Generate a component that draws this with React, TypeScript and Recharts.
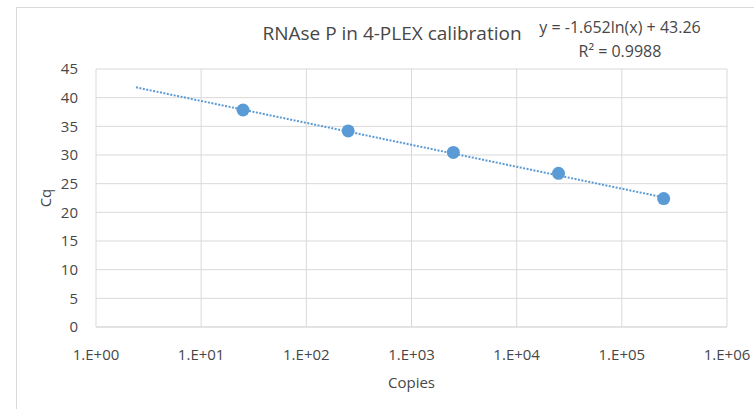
// RNAse P calibration curve: Cq vs copies on a log x axis, with a
// logarithmic trendline drawn as a dotted line (Excel-style look).

import {
  CartesianGrid,
  Scatter,
  ScatterChart,
  XAxis,
  YAxis,
} from "recharts";

const copies = [25, 250, 2500, 25000, 250000];
const cqValues = [37.85, 34.2, 30.45, 26.8, 22.4];

// trendline ends
const trendCopies = [2.4, 250000];
const trendCq = [41.8, 22.6];

const xTicks = [1, 10, 100, 1000, 10000, 100000, 1000000];
const yTicks = [0, 5, 10, 15, 20, 25, 30, 35, 40, 45];

const title = "RNAse P in 4-PLEX calibration";
const equation = "y = -1.652ln(x) + 43.26";
const rSquared = "0.9988";

const BLUE = "#5b9bd5";
const GRID = "#d9d9d9";
const TEXT = "#474747";
const FONT = "'Open Sans', sans-serif";

const points = copies.map((x, i) => ({ x, y: cqValues[i] }));
const trend = trendCopies.map((x, i) => ({ x, y: trendCq[i] }));

const fmtExp = (v: number) => {
  const e = Math.round(Math.log10(v));
  return `1.E+${String(e).padStart(2, "0")}`;
};

const Dot = (props: any) => {
  const { cx, cy } = props;
  if (cx == null || cy == null) return <g />;
  return <circle cx={cx} cy={cy} r={6.5} fill={BLUE} />;
};

export default function App() {
  return (
    <div
      style={{
        position: "absolute",
        left: 0,
        top: 0,
        width: 754,
        height: 409,
        background: "#fff",
        fontFamily: FONT,
        overflow: "hidden",
      }}
    >
      {/* chart area frame, cut off on the right and bottom */}
      <div
        style={{
          position: "absolute",
          left: 16,
          top: 7,
          right: -2,
          bottom: -2,
          borderLeft: `1px solid ${GRID}`,
          borderTop: `1px solid ${GRID}`,
        }}
      />
      <div
        style={{
          position: "absolute",
          left: 192,
          width: 400,
          top: 19,
          textAlign: "center",
          fontSize: 19,
          lineHeight: "28px",
          color: TEXT,
          whiteSpace: "nowrap",
        }}
      >
        {title}
      </div>
      <div
        style={{
          position: "absolute",
          left: 500,
          width: 240,
          top: 15,
          textAlign: "center",
          fontSize: 16,
          lineHeight: "24px",
          color: TEXT,
          whiteSpace: "nowrap",
        }}
      >
        <div>{equation}</div>
        <div>
          R² = {rSquared}
        </div>
      </div>
      <ScatterChart
        width={754}
        height={409}
        margin={{ top: 69, right: 27, bottom: 0, left: 0 }}
        style={{ position: "absolute", left: 0, top: 0 }}
      >
        <CartesianGrid stroke={GRID} strokeWidth={1} />
        <XAxis
          dataKey="x"
          type="number"
          scale="log"
          domain={[1, 1000000]}
          ticks={xTicks}
          allowDataOverflow
          tickFormatter={fmtExp}
          height={82}
          tickSize={0}
          tickMargin={22}
          tickLine={false}
          axisLine={{ stroke: GRID }}
          tick={{ fill: TEXT, fontSize: 15, fontFamily: FONT }}
          label={{
            value: "Copies",
            position: "insideBottom",
            offset: 21,
            fill: TEXT,
            fontSize: 15,
            fontFamily: FONT,
          }}
        />
        <YAxis
          dataKey="y"
          type="number"
          domain={[0, 45]}
          ticks={yTicks}
          width={96}
          tickSize={0}
          tickMargin={18}
          tickLine={false}
          axisLine={false}
          tick={{ fill: TEXT, fontSize: 15, fontFamily: FONT }}
          label={{
            value: "Cq",
            angle: -90,
            position: "insideLeft",
            offset: 46,
            fill: TEXT,
            fontSize: 15,
            fontFamily: FONT,
            style: { textAnchor: "middle" },
          }}
        />
        <Scatter
          data={trend}
          line={{ stroke: BLUE, strokeWidth: 2, strokeDasharray: "2 1.5" }}
          lineType="joint"
          shape={() => <g />}
          isAnimationActive={false}
        />
        <Scatter data={points} shape={Dot} isAnimationActive={false} />
      </ScatterChart>
    </div>
  );
}
